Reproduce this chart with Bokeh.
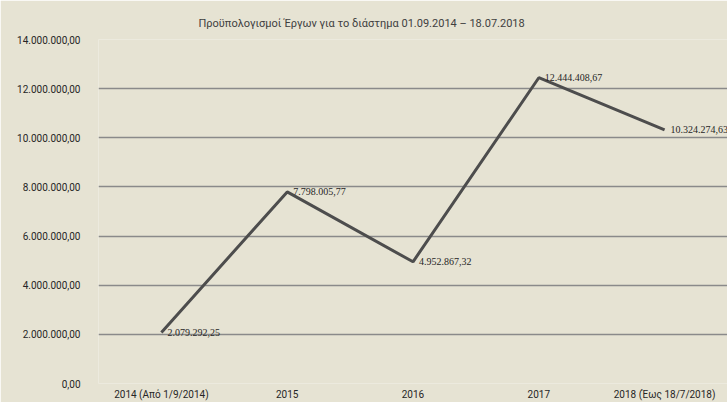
from bokeh.plotting import figure
from bokeh.models import FactorRange, Range1d, FixedTicker, ColumnDataSource, LabelSet
from bokeh.embed import file_html
from bokeh.resources import INLINE

title = "Προϋπολογισμοί Έργων για το διάστημα 01.09.2014 – 18.07.2018"
categories = ["2014 (Από 1/9/2014)", "2015", "2016", "2017", "2018 (Έως 18/7/2018)"]
values = [2079292.25, 7798005.77, 4952867.32, 12444408.67, 10324274.63]
value_labels = ["2.079.292,25", "7.798.005,77", "4.952.867,32", "12.444.408,67", "10.324.274,63"]
y_ticks = [0, 2000000, 4000000, 6000000, 8000000, 10000000, 12000000, 14000000]
y_tick_labels = ["0,00", "2.000.000,00", "4.000.000,00", "6.000.000,00", "8.000.000,00",
                 "10.000.000,00", "12.000.000,00", "14.000.000,00"]

BG = "#E6E3D3"
FONT = "Roboto"

p = figure(width=727, height=402, x_range=FactorRange(*categories), y_range=Range1d(0, 14000000),
           output_backend="svg", toolbar_location=None, title=title,
           min_border_left=98, min_border_right=0, min_border_top=39, min_border_bottom=19)
p.background_fill_color = BG
p.border_fill_color = BG
p.outline_line_color = None

p.title.align = "left"
p.title.offset = 100
p.title.text_font = FONT
p.title.text_font_size = "11px"
p.title.text_font_style = "normal"
p.title.text_color = "#404040"
p.title.standoff = 19

src = ColumnDataSource(dict(x=categories, y=values, lab=value_labels))
p.line("x", "y", source=src, line_color="#4D4D4D", line_width=3)
p.add_layout(LabelSet(x="x", y="y", text="lab", source=src, x_offset=6, y_offset=0,
                      text_baseline="middle", text_font_size="10px", text_color="#262626",
                      text_font=FONT))

p.yaxis.ticker = FixedTicker(ticks=y_ticks)
p.yaxis.major_label_overrides = {t: l for t, l in zip(y_ticks, y_tick_labels)}
for ax in (p.xaxis, p.yaxis):
    ax.axis_line_color = None
    ax.major_tick_line_color = None
    ax.minor_tick_line_color = None
    ax.major_tick_out = 0
    ax.major_tick_in = 0
    ax.minor_tick_out = 0
    ax.minor_tick_in = 0
    ax.major_label_text_font = FONT
    ax.major_label_text_font_size = "10px"
    ax.major_label_text_color = "#262626"
p.yaxis.major_label_standoff = 18
p.xaxis.major_label_standoff = 5
p.xgrid.grid_line_color = None
p.ygrid.grid_line_color = "#8A8A8A"
p.ygrid.grid_line_width = 1.5

open("out.html", "w").write(file_html(p, INLINE))
